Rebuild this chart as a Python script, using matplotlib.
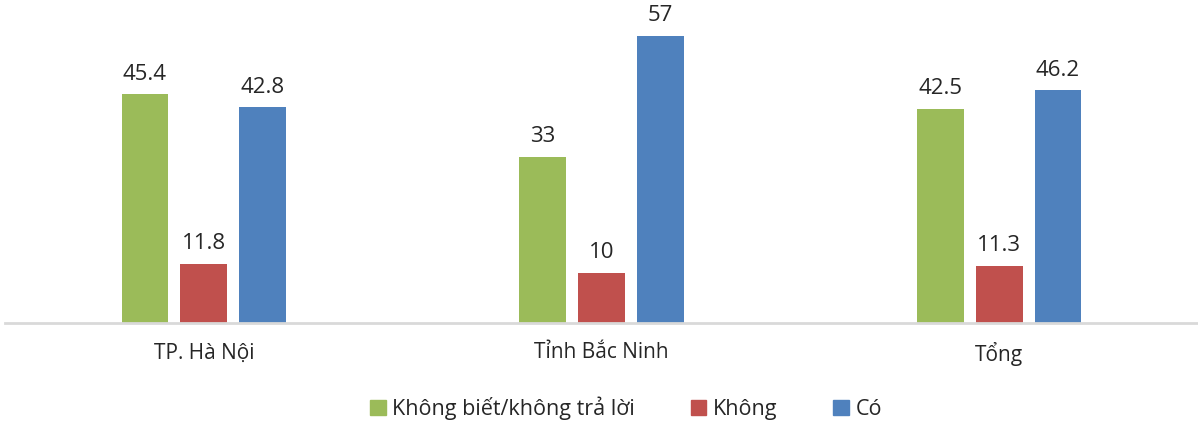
import matplotlib.pyplot as plt
import numpy as np
from matplotlib.patches import Patch

plt.rcParams['font.family'] = ['Open Sans', 'DejaVu Sans']

regions = ['TP. Hà Nội', 'Tỉnh Bắc Ninh', 'Tổng']
series_names = ['Không biết/không trả lời', 'Không', 'Có']
dont_know = [45.4, 33, 42.5]
no = [11.8, 10, 11.3]
yes = [42.8, 57, 46.2]
colors = ['#9BBB59', '#C0504D', '#4F81BD']

fig = plt.figure(figsize=(11.98, 4.22), dpi=100)
ax = fig.add_axes([5 / 1198, 1 - 323 / 422, 1 - 5 / 1198, 323 / 422])

x = np.arange(len(regions))
width = 0.118
offset = 0.148
for i, (vals, color) in enumerate(zip([dont_know, no, yes], colors)):
    bars = ax.bar(x + (i - 1) * offset, vals, width, color=color, zorder=2)
    ax.bar_label(bars, labels=[f'{v:g}' for v in vals], padding=7,
                 fontsize=16, color='#262626')

ax.set_xlim(-0.5, len(regions) - 0.5)
ax.set_ylim(0, 64.15)
ax.set_xticks(x)
ax.set_xticklabels(regions, fontsize=15, color='#262626')
ax.tick_params(axis='x', length=0, pad=14)
ax.set_yticks([])
for side in ['top', 'right', 'left']:
    ax.spines[side].set_visible(False)
ax.spines['bottom'].set_color('#d9d9d9')
ax.spines['bottom'].set_linewidth(2)

handles = [Patch(color=c) for c in colors]
fig.legend(handles, series_names, loc='center', bbox_to_anchor=(626 / 1198, 1 - 408 / 422),
           ncol=3, frameon=False, fontsize=15.5, handlelength=0.72, handleheight=0.72,
           handletextpad=0.3, columnspacing=2.6, labelcolor='#262626')

fig.savefig('out.png', dpi=100)
